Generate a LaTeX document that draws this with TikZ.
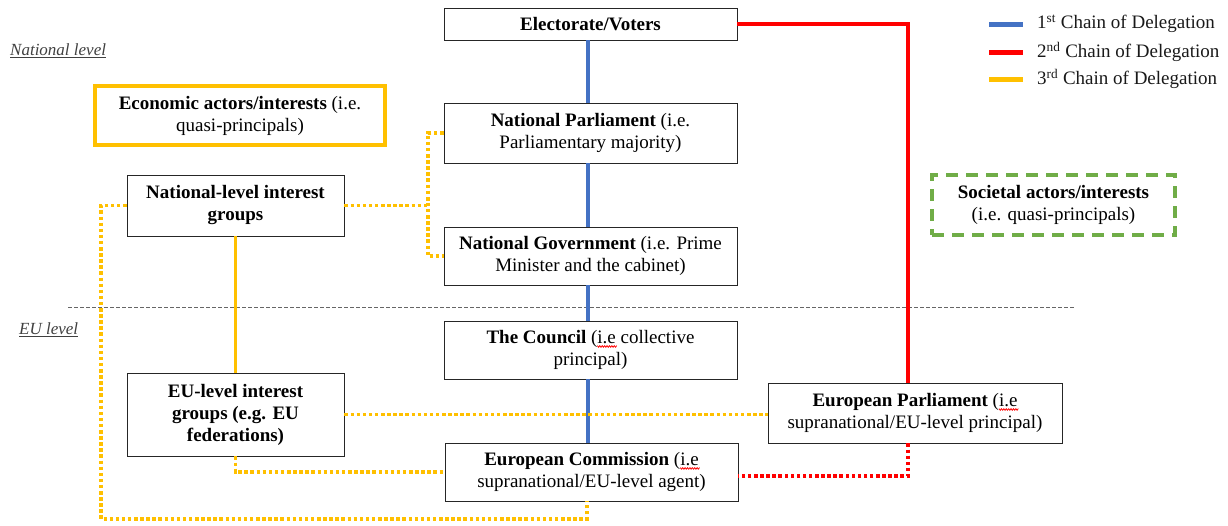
\documentclass[tikz,border=0pt]{standalone}
\usepackage{fontspec}
\setmainfont{Liberation Serif}
\newcommand\spellwave[1]{\leavevmode\rlap{\special{pdf:content q 1 0 0 RG 0.75 w 1 j 0 -2 m 1.2 -3.8 l 2.4 -2 l 3.6 -3.8 l 4.8 -2 l 6 -3.8 l 7.2 -2 l 8.4 -3.8 l 9.6 -2 l 10.8 -3.8 l 12 -2 l 13.2 -3.8 l 14.4 -2 l 15.6 -3.8 l 16.8 -2 l 18 -3.8 l 19.2 -2 l S Q}}#1}
\definecolor{chainblue}{HTML}{4472C4}
\definecolor{chainred}{HTML}{FF0000}
\definecolor{chainorange}{HTML}{FFC000}
\definecolor{socgreen}{HTML}{70AD47}
\definecolor{lvlgray}{HTML}{404040}
\begin{document}
\begin{tikzpicture}[x=1pt,y=-1pt,
  box/.style={draw=black!85, line width=0.9pt, align=center, inner sep=0pt,
    font=\fontsize{19}{22}\selectfont, text=black},
  econbox/.style={box, draw=chainorange, line width=3.3pt},
  socbox/.style={box, draw=socgreen, line width=3.3pt, dash pattern=on 12pt off 8pt},
  blueln/.style={draw=chainblue, line width=3.6pt},
  redln/.style={draw=chainred, line width=3.3pt},
  reddot/.style={draw=chainred, line width=3.5pt, dash pattern=on 3.5pt off 2.6pt},
  oraln/.style={draw=chainorange, line width=3.3pt},
  oradot/.style={draw=chainorange, line width=3.5pt, dash pattern=on 3.5pt off 2.6pt},
  sepline/.style={draw=black!60, line width=1pt, dash pattern=on 4pt off 2pt},
  lvltext/.style={anchor=west, inner sep=0pt, text=lvlgray, font=\fontsize{17}{20}\selectfont\itshape},
  legline/.style={line width=5pt},
  legtext/.style={anchor=west, inner sep=0pt, text=black!90, font=\fontsize{19}{22}\selectfont}
]
\useasboundingbox (0,0) rectangle (1228,525);

% separator between levels
\coordinate (sepL) at (68,307);
\coordinate (sepR) at (1075,307);
\draw[sepline] (sepL) -- (sepR);

% level labels
\node[lvltext] (natlvl) at (10,51) {\underline{National level}};
\node[lvltext] (eulvl) at (19,330) {\underline{EU level}};

% boxes
\node[box, minimum width=293pt, minimum height=32pt] (elec) at (590.5,24) {\textbf{Electorate/Voters}};
\node[box, minimum width=293pt, minimum height=60pt] (npar) at (590.5,133) {\textbf{National Parliament} (i.e.\\Parliamentary majority)};
\node[box, minimum width=293pt, minimum height=58pt] (ngov) at (590.5,256) {\textbf{National Government} (i.e. Prime\\Minister and the cabinet)};
\node[box, minimum width=293pt, minimum height=58pt] (coun) at (590.5,350) {\textbf{The Council} (\spellwave{i.e} collective\\principal)};
\node[box, minimum width=293pt, minimum height=58pt] (comm) at (591.5,472) {\textbf{European Commission} (\spellwave{i.e}\\supranational/EU-level agent)};
\node[box, minimum width=294pt, minimum height=60pt] (ep) at (915,413) {\textbf{European Parliament} (\spellwave{i.e}\\supranational/EU-level principal)};
\node[econbox, minimum width=290pt, minimum height=59pt] (econ) at (240,115.5) {\textbf{Economic actors/interests} (i.e.\\quasi-principals)};
\node[box, minimum width=217pt, minimum height=61pt] (natig) at (235.5,205.5) {\textbf{National-level interest}\\\textbf{groups}};
\node[box, minimum width=217pt, minimum height=83pt] (euig) at (235.5,414.5) {\textbf{EU-level interest}\\\textbf{groups (e.g. EU}\\\textbf{federations)}};
\node[socbox, minimum width=243pt, minimum height=60pt] (soc) at (1053.5,205) {\textbf{Societal actors/interests}\\(i.e. quasi-principals)};

% 1st chain (blue)
\coordinate (bx) at (588,0);
\draw[blueln] (elec.south -| bx) -- (npar.north -| bx);
\draw[blueln] (npar.south -| bx) -- (ngov.north -| bx);
\draw[blueln] (ngov.south -| bx) -- (coun.north -| bx);
\draw[blueln] (coun.south -| bx) -- (comm.north -| bx);

% 2nd chain (red)
\coordinate (rx) at (908,0);
\draw[redln] (elec.east) -| (ep.north -| rx);
\coordinate (rd) at (908,476);
\draw[reddot] (ep.south -| rd) -- (rd) -- (comm.east |- rd);

% 3rd chain (orange)
\draw[oraln] (natig.south) -- (euig.north);
\coordinate (bk) at (428,200);
\draw[oradot] (npar.west) -| (bk) |- (ngov.west);
\draw[oradot] (natig.east) -- (natig.east -| bk);
\coordinate (lc) at (101,519);
\coordinate (bc) at (587,519);
\draw[oradot] (natig.west) -| (lc) -- (bc) -- (comm.south -| bc);
\draw[oradot] (euig.east) -- (euig.east -| ep.west);
\draw[oradot] (euig.south) |- (comm.west);

% legend
\coordinate (l1a) at (989,24);  \coordinate (l1b) at (1023,24);
\coordinate (l2a) at (989,52);  \coordinate (l2b) at (1023,52);
\coordinate (l3a) at (989,79);  \coordinate (l3b) at (1023,79);
\draw[legline, chainblue] (l1a) -- (l1b);
\draw[legline, chainred] (l2a) -- (l2b);
\draw[legline, chainorange] (l3a) -- (l3b);
\node[legtext] (leg1) at (1037,24) {1\textsuperscript{st} Chain of Delegation};
\node[legtext] (leg2) at (1037,52) {2\textsuperscript{nd} Chain of Delegation};
\node[legtext] (leg3) at (1037,79) {3\textsuperscript{rd} Chain of Delegation};
\end{tikzpicture}
\end{document}
